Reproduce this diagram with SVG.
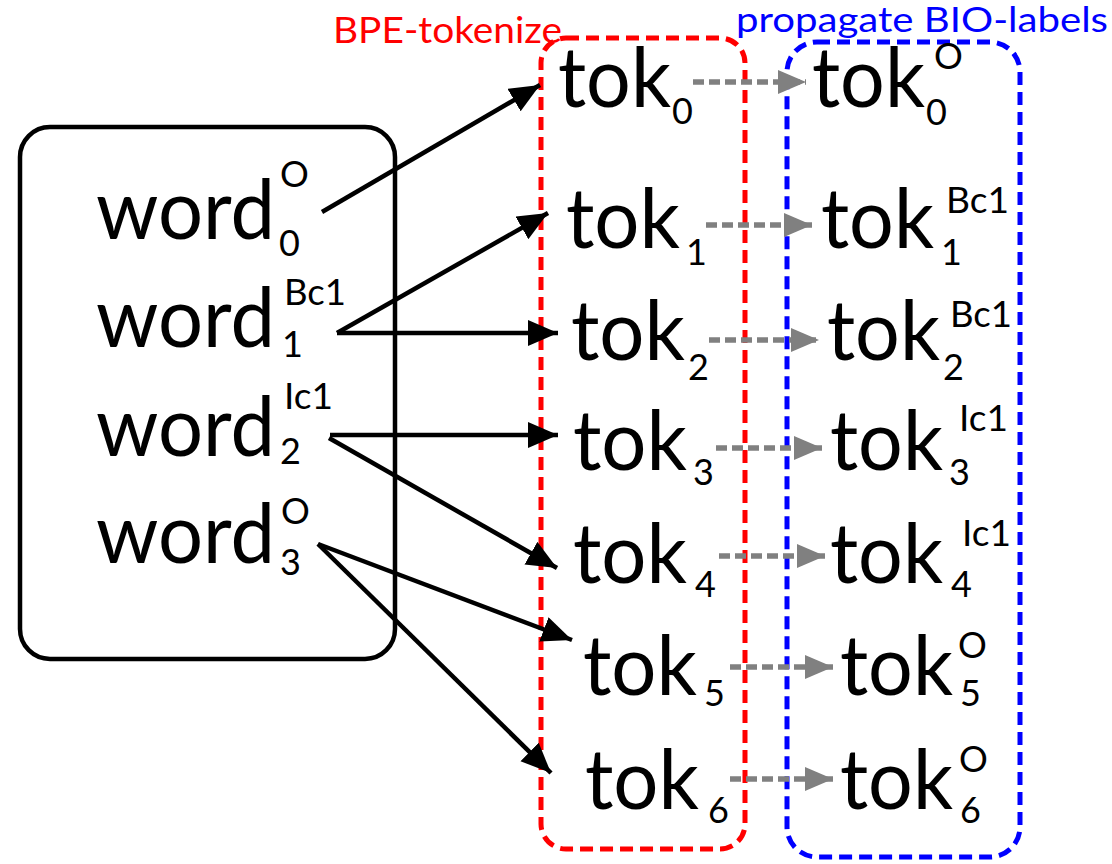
<svg xmlns="http://www.w3.org/2000/svg" width="1112" height="864" viewBox="0 0 1112 864">
<style>
text{font-family:Lato,"Open Sans","Liberation Sans",sans-serif;fill:#000}
.big{font-size:83px}
.sm{font-size:36px}
.lbl{font-size:36px}
.blk{stroke:#000;stroke-width:4.5;fill:none}
.gry{stroke:#808080;stroke-width:5.5;fill:none;stroke-dasharray:11 5}
</style>
<defs>
<marker id="ab" markerUnits="userSpaceOnUse" markerWidth="32" markerHeight="28" refX="30" refY="13" orient="auto"><path d="M0,0 L30,13 L0,26 z" fill="#000"/></marker>
<marker id="ag" markerUnits="userSpaceOnUse" markerWidth="30" markerHeight="26" refX="28" refY="12" orient="auto"><path d="M0,0 L28,12 L0,24 z" fill="#808080"/></marker>
</defs>
<rect x="0" y="0" width="1112" height="864" fill="#fff"/>
<g id="words">
<rect x="20" y="127" width="375" height="532" rx="30" fill="none" stroke="#000" stroke-width="4.5"/>
<g id="word0"><text class="big"><tspan x="96" y="239" textLength="179" lengthAdjust="spacingAndGlyphs">word</tspan><tspan class="sm" x="280" y="187">O</tspan><tspan class="sm" x="279" y="256">0</tspan></text></g>
<g id="word1"><text class="big"><tspan x="96" y="347" textLength="179" lengthAdjust="spacingAndGlyphs">word</tspan><tspan class="sm" x="284" y="305" textLength="62" lengthAdjust="spacingAndGlyphs">Bc1</tspan><tspan class="sm" x="282" y="357">1</tspan></text></g>
<g id="word2"><text class="big"><tspan x="96" y="456" textLength="179" lengthAdjust="spacingAndGlyphs">word</tspan><tspan class="sm" x="284" y="409" textLength="49" lengthAdjust="spacingAndGlyphs">Ic1</tspan><tspan class="sm" x="280" y="464">2</tspan></text></g>
<g id="word3"><text class="big"><tspan x="96" y="563" textLength="179" lengthAdjust="spacingAndGlyphs">word</tspan><tspan class="sm" x="281" y="524">O</tspan><tspan class="sm" x="280" y="575">3</tspan></text></g>
</g>
<g id="bpe">
<rect x="541" y="38" width="204" height="811" rx="25" fill="none" stroke="#ff0000" stroke-width="5" stroke-dasharray="13 7"/>
<text class="lbl" x="333" y="43" style="fill:#ff0000" textLength="229" lengthAdjust="spacingAndGlyphs">BPE-tokenize</text>
<g id="tok0"><text class="big"><tspan x="558" y="107" textLength="113" lengthAdjust="spacingAndGlyphs">tok</tspan><tspan class="sm" x="672" y="124">0</tspan></text></g>
<g id="tok1"><text class="big"><tspan x="566" y="248" textLength="114" lengthAdjust="spacingAndGlyphs">tok</tspan><tspan class="sm" x="686" y="265">1</tspan></text></g>
<g id="tok2"><text class="big"><tspan x="571" y="360" textLength="114" lengthAdjust="spacingAndGlyphs">tok</tspan><tspan class="sm" x="688" y="380">2</tspan></text></g>
<g id="tok3"><text class="big"><tspan x="573" y="470" textLength="114" lengthAdjust="spacingAndGlyphs">tok</tspan><tspan class="sm" x="693" y="485">3</tspan></text></g>
<g id="tok4"><text class="big"><tspan x="573" y="583" textLength="114" lengthAdjust="spacingAndGlyphs">tok</tspan><tspan class="sm" x="695" y="597">4</tspan></text></g>
<g id="tok5"><text class="big"><tspan x="583" y="695" textLength="114" lengthAdjust="spacingAndGlyphs">tok</tspan><tspan class="sm" x="704" y="706">5</tspan></text></g>
<g id="tok6"><text class="big"><tspan x="585" y="809" textLength="114" lengthAdjust="spacingAndGlyphs">tok</tspan><tspan class="sm" x="708" y="823">6</tspan></text></g>
</g>
<g id="bio">
<rect x="787" y="42" width="233" height="815" rx="30" fill="none" stroke="#0000ff" stroke-width="5" stroke-dasharray="13 7"/>
<text class="lbl" x="736" y="32" style="fill:#0000ff;font-size:34px" textLength="372" lengthAdjust="spacingAndGlyphs">propagate BIO-labels</text>
<g id="btok0"><text class="big"><tspan x="812" y="107" textLength="113" lengthAdjust="spacingAndGlyphs">tok</tspan><tspan class="sm" x="934" y="69">O</tspan><tspan class="sm" x="926" y="125">0</tspan></text></g>
<g id="btok1"><text class="big"><tspan x="821" y="248" textLength="113" lengthAdjust="spacingAndGlyphs">tok</tspan><tspan class="sm" x="946" y="213" textLength="63" lengthAdjust="spacingAndGlyphs">Bc1</tspan><tspan class="sm" x="941" y="265">1</tspan></text></g>
<g id="btok2"><text class="big"><tspan x="827" y="360" textLength="113" lengthAdjust="spacingAndGlyphs">tok</tspan><tspan class="sm" x="950" y="327" textLength="62" lengthAdjust="spacingAndGlyphs">Bc1</tspan><tspan class="sm" x="943" y="380">2</tspan></text></g>
<g id="btok3"><text class="big"><tspan x="830" y="470" textLength="113" lengthAdjust="spacingAndGlyphs">tok</tspan><tspan class="sm" x="959" y="431" textLength="49" lengthAdjust="spacingAndGlyphs">Ic1</tspan><tspan class="sm" x="949" y="485">3</tspan></text></g>
<g id="btok4"><text class="big"><tspan x="830" y="583" textLength="113" lengthAdjust="spacingAndGlyphs">tok</tspan><tspan class="sm" x="962" y="546" textLength="49" lengthAdjust="spacingAndGlyphs">Ic1</tspan><tspan class="sm" x="951" y="597">4</tspan></text></g>
<g id="btok5"><text class="big"><tspan x="840" y="695" textLength="113" lengthAdjust="spacingAndGlyphs">tok</tspan><tspan class="sm" x="958" y="658">O</tspan><tspan class="sm" x="960" y="706">5</tspan></text></g>
<g id="btok6"><text class="big"><tspan x="840" y="809" textLength="113" lengthAdjust="spacingAndGlyphs">tok</tspan><tspan class="sm" x="959" y="772">O</tspan><tspan class="sm" x="960" y="823">6</tspan></text></g>
</g>
<g id="connectors">
<line class="blk" x1="322" y1="212" x2="540" y2="85" marker-end="url(#ab)"/>
<line class="blk" x1="337" y1="333" x2="548" y2="213" marker-end="url(#ab)"/>
<line class="blk" x1="337" y1="333" x2="558" y2="333" marker-end="url(#ab)"/>
<line class="blk" x1="330" y1="435" x2="558" y2="435" marker-end="url(#ab)"/>
<line class="blk" x1="329" y1="438" x2="557" y2="568" marker-end="url(#ab)"/>
<line class="blk" x1="318" y1="544" x2="572" y2="640" marker-end="url(#ab)"/>
<line class="blk" x1="318" y1="544" x2="551" y2="773" marker-end="url(#ab)"/>
<line class="gry" x1="693" y1="82" x2="806" y2="82" marker-end="url(#ag)"/>
<line class="gry" x1="706" y1="225" x2="812" y2="225" marker-end="url(#ag)"/>
<line class="gry" x1="709" y1="340" x2="819" y2="340" marker-end="url(#ag)"/>
<line class="gry" x1="716" y1="448" x2="822" y2="448" marker-end="url(#ag)"/>
<line class="gry" x1="719" y1="556" x2="825" y2="556" marker-end="url(#ag)"/>
<line class="gry" x1="730" y1="667" x2="833" y2="667" marker-end="url(#ag)"/>
<line class="gry" x1="730" y1="779" x2="833" y2="779" marker-end="url(#ag)"/>
</g>
</svg>
